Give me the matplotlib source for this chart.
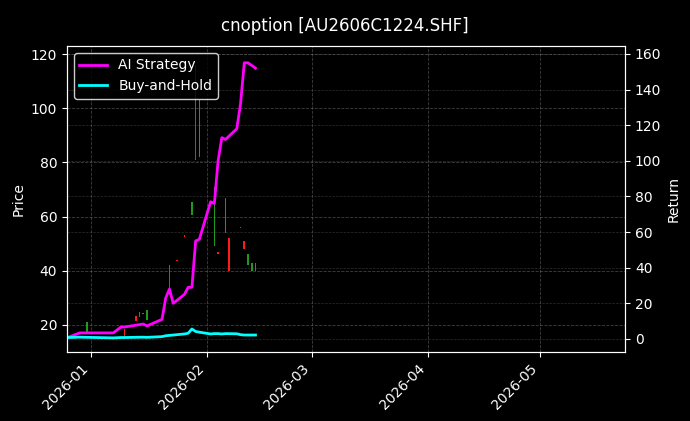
import pandas as pd
import matplotlib
matplotlib.use('Agg')
import matplotlib.pyplot as plt
import matplotlib.dates as mdates

# candle bodies (open, close)
candle_dates = ['2025-12-31', '2026-01-10', '2026-01-13', '2026-01-14', '2026-01-15', '2026-01-16',
                '2026-01-22', '2026-01-24', '2026-01-26', '2026-01-28', '2026-01-29', '2026-01-30',
                '2026-02-03', '2026-02-04', '2026-02-06', '2026-02-07', '2026-02-10', '2026-02-11',
                '2026-02-12', '2026-02-13', '2026-02-14']
candle_open = [21.0, 15.6, 21.5, 24.8, 24.5, 25.5, 31.0, 43.5, 52.5, 65.4, 81.0, 103.0,
               71.0, 46.2, 67.0, 40.0, 55.6, 48.0, 46.0, 43.0, 43.0]
candle_close = [17.4, 18.5, 23.3, 23.0, 24.0, 21.8, 42.0, 44.0, 53.0, 60.6, 116.0, 82.0,
                49.0, 46.8, 54.0, 52.0, 56.2, 51.0, 42.0, 40.0, 40.0]

# strategy returns
ret_dates = ['2025-12-26', '2025-12-29', '2026-01-07', '2026-01-09', '2026-01-10', '2026-01-15',
             '2026-01-16', '2026-01-20', '2026-01-21', '2026-01-22', '2026-01-23', '2026-01-26',
             '2026-01-27', '2026-01-28', '2026-01-29', '2026-01-30', '2026-02-02', '2026-02-03',
             '2026-02-04', '2026-02-05', '2026-02-06', '2026-02-09', '2026-02-10', '2026-02-11',
             '2026-02-12', '2026-02-14']
ai_ret = [1, 3.4, 3.4, 6.7, 6.7, 8.4, 7.3, 11, 23, 28, 20, 25, 29, 29, 55, 56, 77, 76,
          100, 113, 112, 118, 132, 155, 155, 152]
bh_ret = [0.8, 1.0, 0.6, 0.8, 0.8, 1.0, 0.9, 1.3, 1.8, 2.0, 2.2, 2.8, 3.2, 5.6, 4.2, 3.8, 2.8, 3.0,
          3.0, 2.8, 3.0, 2.9, 2.4, 2.2, 2.2, 2.2]

plt.style.use('dark_background')
fig = plt.figure(figsize=(6.9, 4.21), dpi=100)
ax1 = fig.add_axes([0.097, 0.164, 0.809, 0.727])
ax1.set_facecolor('black')

cd = pd.to_datetime(candle_dates)
for d, o, c in zip(cd, candle_open, candle_close):
    col = '#ff1a1a' if c >= o else '#1e9a1e'
    ax1.bar(d, abs(c - o) if abs(c - o) > 0.3 else 0.6, bottom=min(o, c), width=0.45, color=col)

ax1.set_ylim(10, 123)
ax1.set_yticks([20, 40, 60, 80, 100, 120])
ax1.set_ylabel('Price')
ax1.grid(True, linestyle='--', color='gray', alpha=0.5, linewidth=0.6)

ax2 = ax1.twinx()
rd = pd.to_datetime(ret_dates)
ax2.plot(rd, ai_ret, color='magenta', linewidth=2, label='AI Strategy')
ax2.plot(rd, bh_ret, color='cyan', linewidth=2, label='Buy-and-Hold')
ax2.set_ylim(-7.3, 164.5)
ax2.set_yticks(range(0, 161, 20))
ax2.set_ylabel('Return')
ax2.grid(True, axis='y', linestyle='--', color='gray', alpha=0.35, linewidth=0.5)
ax2.legend(loc='upper left', facecolor='black', edgecolor='white')

ax1.set_xlim(pd.Timestamp('2025-12-25 14:00'), pd.Timestamp('2026-05-23 20:00'))
ax1.xaxis.set_major_locator(mdates.MonthLocator())
ax1.xaxis.set_major_formatter(mdates.DateFormatter('%Y-%m'))
plt.setp(ax1.get_xticklabels(), rotation=45, ha='right')

fig.suptitle('cnoption [AU2606C1224.SHF]', y=0.96)
fig.savefig('out.png', dpi=100, facecolor='black')
